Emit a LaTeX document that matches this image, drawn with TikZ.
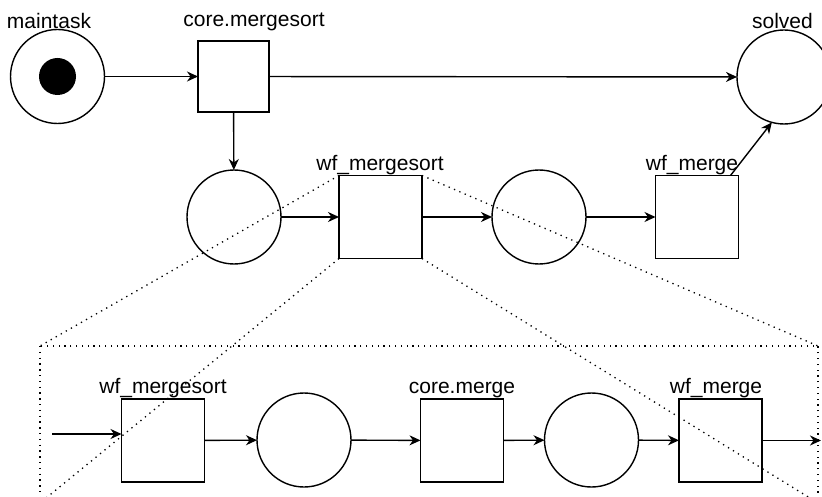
\documentclass[tikz,border=0pt]{standalone}
\usepackage{fontspec}
\setmainfont{Liberation Sans}
\usetikzlibrary{arrows.meta,positioning,calc}

\begin{document}
\begin{tikzpicture}[x=1pt, y=-1pt, line width=1.4pt,
    every node/.style={font=\fontsize{21}{25}\selectfont},
    place/.style={draw, circle, minimum size=94pt, inner sep=0pt, outer sep=0pt},
    token/.style={circle, fill=black, minimum size=37pt, inner sep=0pt},
    trans/.style={draw, rectangle, minimum size=83pt, inner sep=0pt, outer sep=0pt},
    lbl/.style={anchor=base, inner sep=0pt},
    arc/.style={-{Stealth[length=11pt, width=10pt, inset=3.5pt]}},
    zoomline/.style={line width=1.3pt, dash pattern=on 1.3pt off 4.5pt}]
    \useasboundingbox (0,0) rectangle (822,497);
    \clip (0,0) rectangle (822,497);

    % top net
    \node[place] (maintask) at (57.5,76.5) {};
    \node[token] (dot) at (maintask.center) {};
    \node[trans, minimum size=71pt] (coremergesort) at (233.5,76.5) {};
    \node[place] (solved) at (784,77) {};
    \node[lbl] (maintasklbl) at (49,29) {maintask};
    \node[lbl] (coremergesortlbl) at (254,27) {core.mergesort};
    \node[lbl] (solvedlbl) at (782.5,29) {solved};

    % middle net
    \node[place] (p1) at (234,217) {};
    \node[trans] (wfmergesort) at (380.5,217) {};
    \node[place] (p2) at (539,217) {};
    \node[trans] (wfmerge) at (697,217) {};
    \node[lbl] (wfmergesortlbl) at (380,171) {wf\_mergesort};
    \node[lbl] (wfmergelbl) at (692,171) {wf\_merge};

    \draw[arc] (maintask) -- (coremergesort);
    \draw[arc] (coremergesort) -- (solved);
    \draw[arc] (coremergesort) -- (p1);
    \draw[arc] (p1) -- (wfmergesort);
    \draw[arc] (wfmergesort) -- (p2);
    \draw[arc] (p2) -- (wfmerge);
    \draw[arc] ([xshift=-8pt]wfmerge.north east) -- (solved.255);

    % zoomed view of wf_mergesort
    \coordinate (zoomNW) at (40,346);
    \coordinate (zoomSE) at (818,503);
    \draw[zoomline] (zoomNW) rectangle (zoomSE);
    \draw[zoomline] (wfmergesort.north west) -- (zoomNW);
    \draw[zoomline] (wfmergesort.south west) -- (zoomNW |- zoomSE);
    \draw[zoomline] (wfmergesort.north east) -- (zoomSE |- zoomNW);
    \draw[zoomline] (wfmergesort.south east) -- (zoomSE);

    \node[trans] (submergesort) at (163,440.5) {};
    \node[place] (q1) at (304,440) {};
    \node[trans] (coremerge) at (462,440.5) {};
    \node[place] (q2) at (591.5,440) {};
    \node[trans] (submerge) at (720.5,440.5) {};
    \node[lbl] (submergesortlbl) at (163,393) {wf\_mergesort};
    \node[lbl] (coremergelbl) at (462,393) {core.merge};
    \node[lbl] (submergelbl) at (716,393) {wf\_merge};

    \coordinate (feed) at (52,434);
    \coordinate (drain) at (821,440.5);
    \draw[arc] (feed) -- (feed -| submergesort.west);
    \draw[arc] (submergesort) -- (q1);
    \draw[arc] (q1) -- (coremerge);
    \draw[arc] (coremerge) -- (q2);
    \draw[arc] (q2) -- (submerge);
    \draw[arc] (submerge) -- (drain);
\end{tikzpicture}
\end{document}
